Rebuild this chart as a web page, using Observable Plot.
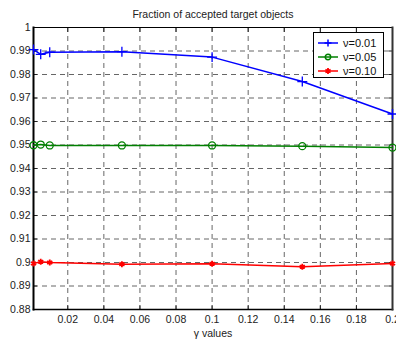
<!DOCTYPE html>
<html>
<head>
<meta charset="utf-8">
<script src="https://cdn.jsdelivr.net/npm/d3@7"></script>
<script src="https://cdn.jsdelivr.net/npm/@observablehq/plot@0.6"></script>
<style>
  html, body { margin: 0; padding: 0; background: #fff; }
  #wrap { position: relative; width: 396px; height: 339px; overflow: hidden; font-family: "Liberation Sans", Arial, sans-serif; }
  #legend { position: absolute; left: 313px; top: 32px; width: 71px; height: 46px; border: 1px solid #000; background: #fff; box-sizing: border-box; }
  .row { position: absolute; left: 0; height: 14px; display: flex; align-items: center; font-size: 11px; color: #111; }
  .row svg { display: block; }
</style>
</head>
<body>
<div id="wrap"><div id="chart"></div><div id="legend"></div></div>
<script>
const title = "Fraction of accepted target objects";
const xLabel = "γ values";
const gamma = [0.001, 0.005, 0.01, 0.05, 0.1, 0.15, 0.2];
const seriesNames = ["ν=0.01", "ν=0.05", "ν=0.10"];
const nu001 = [0.9906, 0.9886, 0.9895, 0.9897, 0.9874, 0.9770, 0.9632];
const nu005 = [0.9499, 0.9502, 0.9498, 0.9498, 0.9498, 0.9495, 0.9489];
const nu010 = [0.8996, 0.9003, 0.9000, 0.8993, 0.8995, 0.8982, 0.8996];
const xTicks = [0.02, 0.04, 0.06, 0.08, 0.1, 0.12, 0.14, 0.16, 0.18, 0.2];
const yTicks = [0.88, 0.89, 0.9, 0.91, 0.92, 0.93, 0.94, 0.95, 0.96, 0.97, 0.98, 0.99, 1];

const colors = ["#0000ff", "#008000", "#ff0000"];
const symbols = ["plus", "circle", "asterisk"];
const markerR = [3.3, 3.5, 2.8];
const allSeries = [nu001, nu005, nu010];
const data = allSeries.flatMap((vals, i) => vals.map((v, j) => ({series: seriesNames[i], x: gamma[j], y: v})));

const fmt = d => String(+d.toFixed(2));
const blank = () => "";
const gridStyle = {stroke: "#000", strokeOpacity: 0.6, strokeDasharray: "5,4", strokeWidth: 1};

const lineMarks = allSeries.map((vals, i) => {
  const d = data.filter(r => r.series === seriesNames[i]);
  return [
    Plot.line(d, {x: "x", y: "y", stroke: colors[i], strokeWidth: 1.5}),
    Plot.dot(d, {x: "x", y: "y", stroke: colors[i], symbol: symbols[i], r: markerR[i], strokeWidth: i === 2 ? 1.8 : 1.3, fill: "none"})
  ];
}).flat();

const chart = Plot.plot({
  width: 396, height: 339,
  marginLeft: 33, marginRight: 4, marginTop: 27, marginBottom: 30,
  style: {fontFamily: "'Liberation Sans', Arial, sans-serif", fontSize: "10.5px", color: "#222", background: "#fff"},
  x: {domain: [0.001, 0.2]},
  y: {domain: [0.88, 1]},
  marks: [
    Plot.gridX(xTicks, gridStyle),
    Plot.gridY(yTicks, gridStyle),
    Plot.axisX({ticks: xTicks, tickSize: 0, tickPadding: 6, tickFormat: fmt, label: null}),
    Plot.axisY({ticks: yTicks, tickSize: 0, tickPadding: 3, tickFormat: fmt, label: null}),
    Plot.axisX({ticks: xTicks, tickSize: -4, tickFormat: blank, label: null}),
    Plot.axisY({ticks: yTicks, tickSize: -4, tickFormat: blank, label: null}),
    Plot.axisX({anchor: "top", ticks: xTicks, tickSize: -4, tickFormat: blank, label: null}),
    Plot.axisY({anchor: "right", ticks: yTicks, tickSize: -4, tickFormat: blank, label: null}),
    Plot.frame({stroke: "#000", strokeWidth: 1}),
    Plot.frame({anchor: "left", stroke: "#000", strokeWidth: 2}),
    Plot.frame({anchor: "bottom", stroke: "#000", strokeWidth: 1.5}),
    Plot.frame({anchor: "right", stroke: "#333", strokeWidth: 2}),
    ...lineMarks,
    Plot.text([title], {frameAnchor: "top", lineAnchor: "middle", dy: -13, fontSize: 10.5, fill: "#222"}),
    Plot.text([xLabel], {frameAnchor: "bottom", lineAnchor: "middle", dy: 24, fontSize: 10.5, fill: "#222"})
  ]
});
document.getElementById("chart").appendChild(chart);

// legend
const legend = document.getElementById("legend");
const symPath = {
  plus: '<path d="M10,-3.5V3.5M6.5,0H13.5" />',
  circle: '<circle cx="10" cy="0" r="2.7" fill="none" />',
  asterisk: '<path d="M10,-3V3M7.4,-1.5L12.6,1.5M7.4,1.5L12.6,-1.5" stroke-width="1.8" />'
};
seriesNames.forEach((name, i) => {
  const row = document.createElement("div");
  row.className = "row";
  row.style.top = (3 + i * 14) + "px";
  row.innerHTML = `<svg width="29" height="14" viewBox="-4 -7 29 14"><g stroke="${colors[i]}" stroke-width="1.5" fill="none"><line x1="0" y1="0" x2="20" y2="0" />${symPath[symbols[i]]}</g></svg><span>${name}</span>`;
  legend.appendChild(row);
});
</script>
</body>
</html>
